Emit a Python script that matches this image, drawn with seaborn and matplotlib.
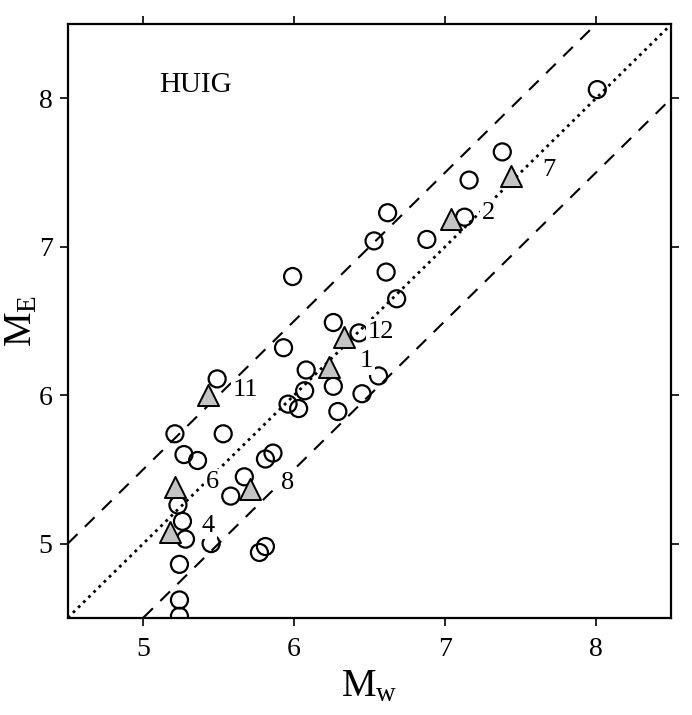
import matplotlib
matplotlib.use("Agg")
import matplotlib.pyplot as plt
import seaborn as sns
import pandas as pd

# Events without station numbers (open circles)
mw_events = [8.01, 7.38, 7.16, 6.62, 6.53, 6.88, 6.61, 6.68, 7.13, 5.99,
             6.26, 6.43, 5.93, 6.08, 6.56, 6.26, 6.45, 6.29, 6.07, 5.96,
             6.03, 5.49, 5.21, 5.53, 5.27, 5.36, 5.81, 5.86, 5.67, 5.23,
             5.58, 5.26, 5.28, 5.45, 5.77, 5.81, 5.24, 5.24, 5.24]
me_events = [8.06, 7.64, 7.45, 7.23, 7.04, 7.05, 6.83, 6.65, 7.20, 6.80,
             6.49, 6.42, 6.32, 6.17, 6.13, 6.06, 6.01, 5.89, 6.03, 5.94,
             5.91, 6.11, 5.74, 5.74, 5.60, 5.56, 5.57, 5.61, 5.45, 5.26,
             5.32, 5.15, 5.03, 5.00, 4.94, 4.98, 4.86, 4.62, 4.51]

# Numbered events (shaded triangles)
event_ids = ["7", "2", "12", "1", "11", "6", "8", "4"]
mw_numbered = [7.44, 7.04, 6.33, 6.23, 5.43, 5.21, 5.71, 5.18]
me_numbered = [7.48, 7.19, 6.39, 6.19, 6.00, 5.38, 5.37, 5.08]

# Reference lines: 1:1 and +/- 0.5 magnitude units
line_offsets = [0.0, 0.5, -0.5]
axis_ticks = [5, 6, 7, 8]

sns.set_style("ticks")
plt.rcParams["font.family"] = ["Liberation Serif", "DejaVu Serif"]
plt.rcParams["mathtext.fontset"] = "custom"
plt.rcParams["mathtext.rm"] = "Liberation Serif"
plt.rcParams["mathtext.it"] = "Liberation Serif"
for key in ["text.color", "axes.labelcolor", "xtick.color", "ytick.color",
            "axes.edgecolor"]:
    plt.rcParams[key] = "black"

fig = plt.figure(figsize=(6.92, 7.15), dpi=100)
ax = fig.add_axes([0.098, 0.136, 0.872, 0.830])

for off in line_offsets:
    if off == 0:
        ax.axline((0, 0), slope=1, color="black", lw=2.0,
                  linestyle=(0, (1, 1.6)), zorder=1)
    else:
        ax.axline((0, off), slope=1, color="black", lw=1.5,
                  linestyle=(0, (6.5, 5)), zorder=1)

circles = pd.DataFrame({"Mw": mw_events, "ME": me_events})
sns.scatterplot(data=circles, x="Mw", y="ME", ax=ax, marker="o", s=150,
                facecolor="none", edgecolor="black", linewidth=1.6, zorder=3)

numbered = pd.DataFrame({"Mw": mw_numbered, "ME": me_numbered, "id": event_ids})
sns.scatterplot(data=numbered, x="Mw", y="ME", ax=ax, marker="^", s=230,
                color="#c4c4c4", edgecolor="black", linewidth=1.4, zorder=4)

for _, row in numbered.iterrows():
    ax.annotate(row["id"], (row["Mw"], row["ME"]), xytext=(27, 4),
                textcoords="offset points", ha="center", va="center",
                fontsize=19, zorder=5,
                bbox=dict(boxstyle="square,pad=0.08", fc="white", ec="none"))

ax.text(5.35, 8.09, "HUIG", fontsize=21, ha="center", va="center")

ax.set_xlim(4.5, 8.5)
ax.set_ylim(4.5, 8.5)
ax.set_xticks(axis_ticks)
ax.set_yticks(axis_ticks)
ax.tick_params(direction="out", length=6, width=1.2, labelsize=20,
               top=True, right=True, labeltop=False, labelright=False)
ax.tick_params(axis="x", pad=8)
ax.tick_params(axis="y", pad=5)
for sp in ax.spines.values():
    sp.set_linewidth(1.6)
    sp.set_visible(True)

ax.set_xlabel(r"$\mathregular{M_w}$", fontsize=28)
ax.set_ylabel(r"$\mathregular{M_E}$", fontsize=28)
ax.xaxis.set_label_coords(0.5, -0.085)
ax.yaxis.set_label_coords(-0.045, 0.5)

fig.savefig("out.png", dpi=100, facecolor="white")
